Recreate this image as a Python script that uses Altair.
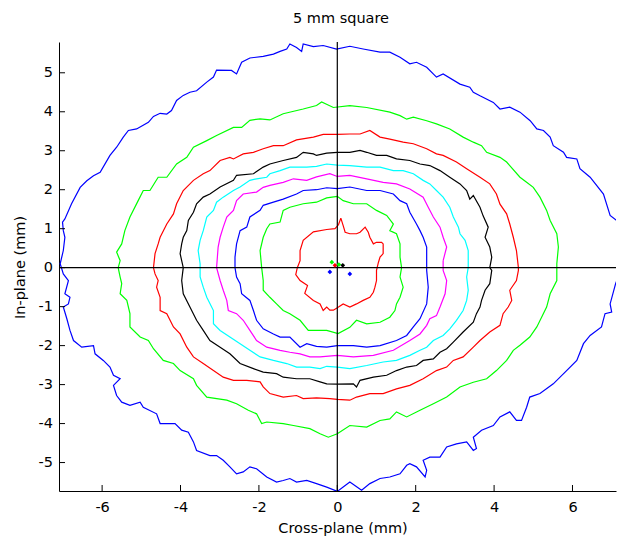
import altair as alt
import pandas as pd

# ---------------- data ----------------
title_text = "5 mm square"
x_title = "Cross-plane (mm)"
y_title = "In-plane (mm)"
x_ticks = [-6, -4, -2, 0, 2, 4, 6]
y_ticks = [-5, -4, -3, -2, -1, 0, 1, 2, 3, 4, 5]
x_domain = [-7.10, 7.11]
y_domain = [-5.73, 5.79]

blue_outer_x = [7.13, 6.96, 6.79, 6.45, 6.19, 6.11, 5.85, 5.77, 5.51, 5.43, 5.26, 5.09, 4.92, 4.66, 4.40, 4.15, 3.98, 3.64, 3.47, 3.38, 3.13, 2.70, 2.53, 2.28, 2.02, 1.85, 1.60, 1.34, 1.09, 0.66, 0.32, -0.02, -0.36, -0.61,
                -0.87, -0.91, -1.04, -1.21, -1.29, -1.46, -1.63, -1.89, -2.23, -2.44, -2.57, -2.70, -3.08, -3.16, -3.33, -3.59, -3.76, -3.93, -4.10, -4.23, -4.35, -4.52, -4.69, -4.82, -5.12, -5.33, -5.46, -5.63, -5.80, -6.05, -6.22, -6.39, -6.56, -6.78, -6.95, -7.01, -6.99, -6.95, -6.99, -7.07,
                -6.99, -6.86, -6.95, -6.82, -6.86, -6.99, -6.90, -6.82, -6.73, -6.52, -6.22, -6.18, -5.97, -5.80, -5.71, -5.54, -5.71, -5.63, -5.50, -5.29, -5.03, -4.95, -4.61, -4.52, -4.14, -3.97, -3.80, -3.67, -3.59, -3.25, -3.08, -2.91, -2.74, -2.57, -2.40, -2.23, -2.06, -1.80, -1.55, -1.38, -1.21, -1.04, -0.78, -0.53, -0.27, 0.00,
                0.15, 0.32, 0.62, 0.83, 1.09, 1.34, 1.60, 1.77, 1.85, 2.02, 2.24, 2.28, 2.19, 2.36, 2.62, 2.79, 3.04, 3.30, 3.47, 3.55, 3.47, 3.68, 3.98, 4.15, 4.40, 4.57, 4.70, 4.83, 4.91, 5.17, 5.51, 5.85, 6.11, 6.28, 6.45, 6.74, 6.83, 7.00, 6.96, 7.10, 7.22, 7.30, 7.22]
blue_outer_y = [1.21, 1.34, 1.89, 2.32, 2.54, 2.79, 2.83, 2.96, 3.13, 3.35, 3.52, 3.56, 3.77, 3.99, 4.12, 4.07, 4.24, 4.41, 4.50, 4.63, 4.71, 4.97, 4.89, 5.14, 5.27, 5.23, 5.40, 5.53, 5.53, 5.61, 5.68, 5.61, 5.70, 5.67,
                5.74, 5.55, 5.65, 5.74, 5.61, 5.55, 5.48, 5.42, 5.38, 5.27, 4.97, 5.06, 5.07, 4.89, 4.76, 4.54, 4.50, 4.42, 4.29, 4.03, 3.94, 3.96, 3.88, 3.73, 3.56, 3.52, 3.35, 3.09, 2.88, 2.45, 2.36, 2.23, 2.06, 1.64, 1.25, 1.17, 0.95, 0.78, 0.44, 0.10,
                -0.16, -0.33, -0.67, -0.76, -0.93, -1.01, -1.31, -1.61, -1.87, -2.04, -2.00, -2.21, -2.38, -2.55, -2.76, -2.85, -3.02, -3.28, -3.45, -3.53, -3.45, -3.58, -3.75, -4.00, -4.00, -4.17, -4.22, -4.47, -4.69, -4.82, -4.82, -4.94, -5.11, -5.29, -5.24, -5.11, -5.16, -5.37, -5.50, -5.46, -5.41, -5.50, -5.46, -5.54, -5.63, -5.74,
                -5.63, -5.50, -5.71, -5.54, -5.41, -5.37, -5.29, -5.07, -5.03, -5.11, -5.37, -5.20, -4.94, -4.86, -4.86, -4.60, -4.52, -4.47, -4.69, -4.64, -4.35, -4.17, -4.05, -3.83, -3.70, -3.92, -3.92, -3.58, -3.32, -3.23, -2.98, -2.64, -2.38, -1.95, -1.74, -1.52, -1.18, -1.14, -0.93, -0.41, -0.10, 0.40, 0.95]

green_outer_x = [5.60, 5.64, 5.60, 5.43, 5.34, 5.17, 5.00, 4.83, 4.66, 4.32, 4.15, 3.81, 3.68, 3.47, 3.21, 2.87, 2.53, 2.28, 1.94, 1.77, 1.60, 1.34, 0.75, 0.32, -0.10,
                 -0.40, -0.53, -0.87, -1.38, -1.72, -1.97, -2.23, -2.44, -2.65, -3.08, -3.33, -3.67, -3.84, -4.10, -4.35, -4.57, -4.78, -4.95, -5.08, -5.29, -5.42, -5.50, -5.63, -5.54, -5.59,
                 -5.54, -5.50, -5.54, -5.37, -5.29, -5.29, -5.03, -4.82, -4.69, -4.44, -4.18, -4.01, -3.67, -3.59, -3.33, -2.82, -2.57, -2.27, -2.06, -1.93, -1.80, -1.38, -1.12, -0.70, -0.44, -0.23,
                 0.00, 0.32, 0.75, 1.09, 1.34, 1.51, 1.77, 2.11, 2.45, 2.79, 3.13, 3.47, 3.81, 4.06, 4.32, 4.49, 4.66, 4.91, 5.09, 5.34, 5.43, 5.60, 5.60]
green_outer_y = [0.10, 0.53, 0.87, 1.21, 1.47, 1.81, 2.06, 2.19, 2.32, 2.71, 2.83, 2.96, 3.13, 3.22, 3.35, 3.56, 3.69, 3.77, 3.86, 3.81, 3.90, 3.99, 4.11, 4.16, 4.11,
                 4.25, 4.16, 4.07, 3.95, 3.79, 3.82, 3.78, 3.60, 3.60, 3.39, 3.26, 3.09, 2.83, 2.66, 2.32, 2.32, 1.98, 1.98, 1.72, 1.30, 0.95, 0.61, 0.40, 0.18, 0.00,
                 -0.24, -0.41, -0.67, -0.84, -1.18, -1.52, -1.78, -1.87, -2.08, -2.38, -2.46, -2.64, -2.85, -3.02, -3.32, -3.40, -3.49, -3.66, -3.75, -4.00, -3.96, -4.00, -4.05, -4.13, -4.26, -4.35,
                 -4.26, -4.05, -4.09, -3.92, -3.88, -3.70, -3.83, -3.66, -3.49, -3.32, -3.06, -2.94, -2.85, -2.64, -2.38, -2.12, -1.99, -1.78, -1.52, -1.01, -0.67, -0.33, 0.01]

red_outer_x = [4.62, 4.57, 4.49, 4.40, 4.32, 4.15, 4.06, 3.89, 3.64, 3.30, 3.04, 2.70, 2.53, 2.28, 1.94, 1.68, 1.34, 1.09, 0.83, 0.58, 0.32, 0.00,
               -0.36, -0.61, -1.04, -1.38, -1.63, -1.89, -2.14, -2.40, -2.65, -2.74, -2.99, -3.25, -3.42, -3.67, -3.93, -4.10, -4.18, -4.35, -4.52, -4.57, -4.65, -4.69,
               -4.65, -4.57, -4.61, -4.52, -4.52, -4.35, -4.18, -4.01, -3.84, -3.67, -3.42, -3.16, -2.91, -2.65, -2.31, -1.97, -1.89, -1.72, -1.38, -1.04, -0.87, -0.53, -0.19, 0.00,
               0.32, 0.49, 0.83, 1.17, 1.51, 1.85, 2.19, 2.53, 2.79, 2.96, 3.21, 3.47, 3.64, 3.89, 4.15, 4.23, 4.36, 4.45, 4.40, 4.57, 4.62]
red_outer_y = [0.00, 0.44, 0.78, 1.12, 1.38, 1.63, 1.89, 2.15, 2.32, 2.54, 2.71, 2.88, 2.92, 3.05, 3.18, 3.22, 3.30, 3.35, 3.52, 3.43, 3.43, 3.42,
               3.42, 3.35, 3.28, 3.13, 3.13, 3.05, 2.96, 2.92, 2.79, 2.83, 2.75, 2.49, 2.41, 2.24, 1.98, 1.64, 1.38, 1.12, 0.78, 0.61, 0.36, 0.00,
               -0.16, -0.33, -0.50, -0.76, -1.10, -1.18, -1.52, -1.70, -2.04, -2.29, -2.46, -2.64, -2.81, -2.89, -2.89, -2.93, -3.06, -3.23, -3.32, -3.28, -3.36, -3.34, -3.36, -3.38,
               -3.40, -3.32, -3.23, -3.23, -3.11, -3.02, -2.85, -2.64, -2.55, -2.38, -2.29, -2.04, -1.87, -1.65, -1.48, -1.18, -1.01, -0.84, -0.58, -0.33, -0.07]

black_x = [3.89, 3.94, 3.89, 3.77, 3.85, 3.72, 3.64, 3.47, 3.38, 3.30, 3.13, 2.87, 2.62, 2.36, 2.11, 1.85, 1.51, 1.26, 1.00, 0.75, 0.58, 0.32, 0.00,
           -0.27, -0.53, -0.61, -0.87, -1.04, -1.38, -1.72, -1.89, -2.14, -2.57, -2.65, -2.99, -3.25, -3.42, -3.59, -3.67, -3.80, -3.84, -3.93, -3.97, -4.01, -3.93,
           -3.97, -3.93, -3.76, -3.59, -3.42, -3.25, -2.99, -2.74, -2.48, -2.14, -1.89, -1.55, -1.38, -1.04, -0.70, -0.44, -0.27, 0.00,
           0.41, 0.49, 0.58, 0.92, 1.26, 1.51, 1.77, 2.02, 2.19, 2.45, 2.62, 2.79, 2.96, 3.21, 3.47, 3.55, 3.64, 3.68, 3.77, 3.89, 3.94]
black_y = [0.00, 0.27, 0.53, 0.78, 1.04, 1.33, 1.55, 1.85, 1.76, 1.98, 2.15, 2.32, 2.49, 2.62, 2.66, 2.75, 2.79, 2.88, 2.88, 2.96, 3.01, 2.96, 2.96,
           2.94, 2.88, 2.92, 2.96, 2.83, 2.75, 2.66, 2.58, 2.41, 2.37, 2.24, 2.07, 1.89, 1.81, 1.64, 1.42, 1.21, 0.95, 0.78, 0.61, 0.36, 0.00,
           -0.33, -0.67, -1.01, -1.35, -1.61, -1.87, -2.04, -2.21, -2.46, -2.59, -2.68, -2.72, -2.81, -2.85, -2.85, -2.93, -2.98, -2.99,
           -2.98, -3.06, -2.89, -2.81, -2.76, -2.64, -2.55, -2.51, -2.38, -2.34, -2.17, -2.08, -1.91, -1.65, -1.40, -1.18, -1.01, -0.84, -0.58, -0.41, -0.07]

cyan_x = [3.34, 3.34, 3.26, 3.13, 3.09, 2.96, 2.87, 2.70, 2.53, 2.36, 2.19, 1.94, 1.68, 1.43, 1.09, 0.75, 0.32, 0.00,
          -0.27, -0.53, -0.78, -1.21, -1.46, -1.72, -1.80, -2.06, -2.23, -2.48, -2.65, -2.91, -3.08, -3.16, -3.33, -3.42, -3.50, -3.55, -3.50,
          -3.50, -3.42, -3.33, -3.16, -3.16, -2.99, -2.74, -2.48, -2.23, -1.97, -1.63, -1.29, -1.04, -0.70, -0.44, -0.27, 0.00,
          0.32, 0.75, 1.17, 1.51, 1.85, 2.11, 2.28, 2.45, 2.70, 2.87, 3.04, 3.21, 3.30, 3.34, 3.30]
cyan_y = [0.00, 0.44, 0.70, 0.87, 1.04, 1.30, 1.55, 1.81, 1.98, 2.15, 2.24, 2.41, 2.49, 2.49, 2.58, 2.58, 2.62, 2.63,
          2.66, 2.60, 2.58, 2.58, 2.49, 2.41, 2.32, 2.28, 2.24, 2.07, 1.98, 1.81, 1.68, 1.47, 1.30, 0.95, 0.70, 0.44, 0.10,
          -0.24, -0.50, -0.76, -1.10, -1.44, -1.61, -1.78, -1.95, -2.12, -2.29, -2.38, -2.46, -2.55, -2.55, -2.59, -2.53, -2.55,
          -2.59, -2.51, -2.42, -2.38, -2.25, -2.12, -2.04, -1.87, -1.74, -1.57, -1.35, -1.10, -0.84, -0.58, -0.24]

magenta_x = [2.70, 2.79, 2.70, 2.62, 2.45, 2.32, 2.19, 1.85, 1.51, 1.17, 0.75, 0.32, 0.00, -0.19,
             -0.53, -0.78, -1.12, -1.38, -1.72, -1.89, -2.06, -2.40, -2.57, -2.65, -2.82, -2.91, -2.99, -3.04, -3.08,
             -2.99, -2.91, -2.82, -2.78, -2.57, -2.40, -2.23, -2.06, -1.80, -1.46, -1.21, -0.95, -0.70, -0.44, 0.00,
             0.41, 0.92, 1.43, 1.85, 2.11, 2.28, 2.36, 2.53, 2.62, 2.75, 2.79, 2.70]
magenta_y = [0.18, 0.53, 0.78, 1.04, 1.30, 1.55, 1.81, 2.02, 2.15, 2.19, 2.28, 2.37, 2.34, 2.41,
             2.33, 2.24, 2.28, 2.19, 2.11, 2.06, 1.94, 1.89, 1.72, 1.47, 1.30, 1.04, 0.78, 0.53, 0.00,
             -0.33, -0.58, -0.84, -1.10, -1.18, -1.35, -1.61, -1.87, -2.04, -2.12, -2.17, -2.21, -2.29, -2.29, -2.25,
             -2.29, -2.25, -2.12, -1.87, -1.70, -1.48, -1.31, -1.23, -1.01, -0.67, -0.33, -0.07]

blue_inner_x = [2.28, 2.28, 2.19, 2.11, 2.02, 1.85, 1.77, 1.60, 1.43, 1.09, 0.75, 0.32, 0.00,
                -0.27, -0.53, -0.87, -1.04, -1.38, -1.63, -1.89, -1.97, -2.23, -2.31, -2.48, -2.57, -2.61, -2.61,
                -2.57, -2.48, -2.44, -2.23, -2.14, -2.06, -1.89, -1.63, -1.46, -1.21, -0.95, -0.78, -0.53, -0.27, 0.00,
                0.41, 0.75, 1.09, 1.51, 1.77, 1.94, 2.11, 2.28, 2.32, 2.28]
blue_inner_y = [0.00, 0.53, 0.78, 0.95, 1.12, 1.42, 1.64, 1.72, 1.89, 1.98, 1.98, 2.07, 2.03,
                2.05, 2.00, 1.98, 1.89, 1.76, 1.68, 1.60, 1.47, 1.30, 1.04, 0.95, 0.61, 0.27, 0.00,
                -0.24, -0.41, -0.67, -0.84, -1.10, -1.35, -1.57, -1.70, -1.78, -1.78, -2.04, -1.95, -2.02, -2.04, -2.00,
                -2.00, -2.04, -2.00, -1.87, -1.74, -1.52, -1.31, -0.93, -0.50, -0.07]

green_inner_x = [1.64, 1.60, 1.60, 1.51, 1.34, 1.43, 1.26, 1.00, 0.75, 0.41, 0.15, 0.00,
                 -0.27, -0.53, -0.87, -1.21, -1.38, -1.46, -1.72, -1.80, -1.89, -1.97, -1.93,
                 -1.89, -1.89, -1.72, -1.55, -1.38, -1.21, -0.95, -0.74, -0.53, -0.27, 0.02,
                 0.32, 0.49, 0.75, 1.09, 1.34, 1.47, 1.51, 1.60, 1.68, 1.60]
green_inner_y = [0.00, 0.27, 0.61, 0.87, 0.95, 1.12, 1.34, 1.47, 1.64, 1.64, 1.72, 1.83,
                 1.79, 1.68, 1.64, 1.55, 1.47, 1.17, 1.12, 1.00, 0.78, 0.44, 0.00,
                 -0.33, -0.58, -0.76, -0.93, -1.10, -1.18, -1.35, -1.61, -1.61, -1.61, -1.69,
                 -1.53, -1.35, -1.44, -1.40, -1.27, -1.10, -0.93, -0.76, -0.50, -0.24]

red_inner_x = [0.09, 0.15, 0.20, 0.32, 0.49, 0.58, 0.71, 0.79, 0.83, 0.92, 1.00, 1.13, 1.17, 1.17, 1.09, 1.05, 1.00, 1.00, 0.96, 0.92, 0.83, 0.66, 0.49, 0.32, 0.15, 0.03, -0.10, -0.19, -0.27,
               -0.36, -0.44, -0.61, -0.83, -0.76, -0.95, -1.06, -1.02, -0.95, -0.95, -0.87, -0.61, -0.27, -0.06, 0.03]
red_inner_y = [1.27, 1.08, 0.91, 0.87, 0.87, 0.91, 1.04, 0.91, 0.78, 0.61, 0.65, 0.65, 0.61, 0.36, 0.27, 0.14, -0.07, -0.33, -0.50, -0.63, -0.76, -0.84, -0.93, -1.01, -0.93, -1.01, -1.09, -1.09, -1.01,
               -1.10, -0.93, -0.84, -0.66, -0.46, -0.33, -0.18, 0.00, 0.18, 0.44, 0.70, 0.92, 0.98, 1.00, 1.10]

contour_colors = ["#0000FF", "#00FF00", "#FF0000", "#000000", "#00FFFF", "#FF00FF", "#0000FF", "#00FF00", "#FF0000"]

marker_x = [-0.14, -0.06, 0.04, 0.14, -0.19, 0.32]
marker_y = [0.14, 0.06, 0.08, 0.06, -0.11, -0.16]
marker_color = ["#00FF00", "#FF0000", "#00FF00", "#000000", "#0000FF", "#0000FF"]

# ---------------- build tables ----------------
contours = [
    (blue_outer_x, blue_outer_y), (green_outer_x, green_outer_y), (red_outer_x, red_outer_y),
    (black_x, black_y), (cyan_x, cyan_y), (magenta_x, magenta_y),
    (blue_inner_x, blue_inner_y), (green_inner_x, green_inner_y), (red_inner_x, red_inner_y),
]
rows = []
for k, ((xs, ys), col) in enumerate(zip(contours, contour_colors)):
    pts = list(zip(xs, ys)) + [(xs[0], ys[0])]  # close the curve
    for i, (x, y) in enumerate(pts):
        rows.append({"cid": k, "i": i, "x": x, "y": y, "col": col})
df = pd.DataFrame(rows)
markers = pd.DataFrame({"x": marker_x, "y": marker_y, "col": marker_color})

FONT = "DejaVu Sans"
FS = 14.5
PW, PH = 557, 449

xscale = alt.Scale(domain=x_domain, nice=False, zero=False)
yscale = alt.Scale(domain=y_domain, nice=False, zero=False)

xaxis = alt.Axis(values=x_ticks, grid=False, ticks=False, tickSize=0, domainColor="black", domainWidth=1,
                 labelFont=FONT, labelFontSize=FS, labelColor="black", labelPadding=9,
                 labelExpr="'' + datum.value",
                 title=x_title, titleFont=FONT, titleFontSize=FS, titleFontWeight="normal", titleColor="black",
                 titleX=283.5, titleY=41, titleAlign="center", titleBaseline="alphabetic")
yaxis = alt.Axis(values=y_ticks, grid=False, ticks=False, tickSize=0, domainColor="black", domainWidth=1,
                 labelFont=FONT, labelFontSize=FS, labelColor="black", labelPadding=6.5,
                 labelExpr="'' + datum.value",
                 title=y_title, titleFont=FONT, titleFontSize=FS, titleFontWeight="normal", titleColor="black",
                 titleX=-34.5, titleY=225, titleAngle=270, titleAlign="center", titleBaseline="alphabetic")

lines = alt.Chart(df).mark_line(strokeWidth=1.2, clip=True).encode(
    x=alt.X("x:Q", scale=xscale, axis=xaxis),
    y=alt.Y("y:Q", scale=yscale, axis=yaxis),
    detail="cid:N",
    order="i:Q",
    color=alt.Color("col:N", scale=None),
)

cross_v = alt.Chart(pd.DataFrame({"x": [0]})).mark_rule(color="black", strokeWidth=1.2).encode(
    x=alt.X("x:Q", scale=xscale))
cross_h = alt.Chart(pd.DataFrame({"y": [0]})).mark_rule(color="black", strokeWidth=1.2).encode(
    y=alt.Y("y:Q", scale=yscale))

xt = alt.Chart(pd.DataFrame({"x": x_ticks})).mark_rule(color="black", strokeWidth=1).encode(
    x=alt.X("x:Q", scale=xscale), y=alt.value(PH), y2=alt.value(PH - 6))
yt = alt.Chart(pd.DataFrame({"y": y_ticks})).mark_rule(color="black", strokeWidth=1).encode(
    y=alt.Y("y:Q", scale=yscale), x=alt.value(0), x2=alt.value(6))

pts = alt.Chart(markers).mark_point(shape="diamond", filled=True, size=22, opacity=1).encode(
    x=alt.X("x:Q", scale=xscale), y=alt.Y("y:Q", scale=yscale),
    color=alt.Color("col:N", scale=None))

chart = alt.layer(lines, xt, yt, cross_v, cross_h, pts).properties(
    width=PW, height=PH,
    title=alt.TitleParams(title_text, font=FONT, fontSize=FS, fontWeight="normal", color="black",
                          anchor="middle", dx=3.5, offset=4, baseline="alphabetic"),
    autosize=alt.AutoSizeParams(type="none"),
    padding={"left": 59, "top": 42, "right": 1, "bottom": 46},
).configure(background="white", view=alt.ViewConfig(stroke=None))

chart.save("out.html", embed_options={"renderer": "svg", "actions": False})
